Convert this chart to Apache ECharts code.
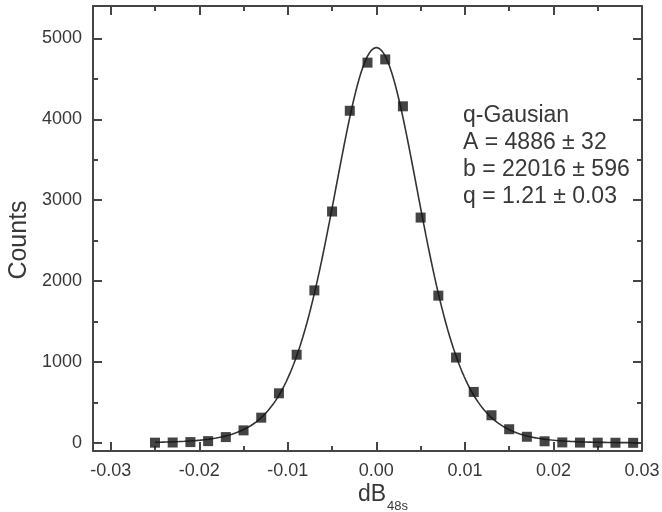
<!DOCTYPE html>
<html>
<head>
<meta charset="utf-8">
<script src="https://cdn.jsdelivr.net/npm/echarts@6/dist/echarts.min.js"></script>
<style>
  html, body { margin: 0; padding: 0; background: #ffffff; }
  #chart { width: 662px; height: 512px; }
</style>
</head>
<body>
<div id="chart"></div>
<script>
// Histogram bin centres (dB over 48 s) and their counts
const binCenters = [-0.025, -0.023, -0.021, -0.019, -0.017, -0.015, -0.013, -0.011, -0.009, -0.007,
                    -0.005, -0.003, -0.001, 0.001, 0.003, 0.005, 0.007, 0.009, 0.011, 0.013,
                    0.015, 0.017, 0.019, 0.021, 0.023, 0.025, 0.027, 0.029];
const counts = [3, 5, 10, 22, 72, 155, 312, 613, 1090, 1885,
                2860, 4105, 4700, 4740, 4160, 2785, 1820, 1055, 630, 342,
                169, 76, 20, 6, 4, 3, 2, 1];

// q-Gaussian fit parameters
const fitA = 4886, fitAErr = 32;
const fitB = 22016, fitBErr = 596;
const fitQ = 1.21, fitQErr = 0.03;

// Axis ticks
const xMajorTicks = [-0.03, -0.02, -0.01, 0.0, 0.01, 0.02, 0.03];
const xMinorTicks = [-0.025, -0.015, -0.005, 0.005, 0.015, 0.025];
const yMajorTicks = [0, 1000, 2000, 3000, 4000, 5000];
const yMinorTicks = [500, 1500, 2500, 3500, 4500];

// Fit curve over the range of the data: f(x) = A [1 - (1-q) b x^2]^(1/(1-q))
function qGaussian(x) {
  return fitA * Math.pow(1 - (1 - fitQ) * fitB * x * x, 1 / (1 - fitQ));
}
const fitCurve = [];
const xStart = binCenters[0], xEnd = binCenters[binCenters.length - 1];
const nSteps = 540;
for (let i = 0; i <= nSteps; i++) {
  const x = xStart + (xEnd - xStart) * i / nSteps;
  fitCurve.push([x, qGaussian(x)]);
}

const FONT = '"Liberation Sans", Arial, Helvetica, sans-serif';
const AXIS_COLOR = '#454545';
const TEXT_COLOR = '#383838';
const X_MIN = -0.032, X_MAX = 0.03;
const Y_MIN = -100, Y_MAX = 5400;

function frameAxis(extra, ticks, len, withLine, labels) {
  return Object.assign({
    type: 'value',
    axisLine: { show: withLine, onZero: false, lineStyle: { color: AXIS_COLOR, width: 2 } },
    axisTick: { show: true, inside: true, length: len, customValues: ticks,
                lineStyle: { color: AXIS_COLOR, width: 2 } },
    axisLabel: labels ? labels : { show: false },
    splitLine: { show: false },
    minorTick: { show: false }
  }, extra);
}

const chart = echarts.init(document.getElementById('chart'), null, { renderer: 'canvas' });

chart.setOption({
  backgroundColor: '#ffffff',
  animation: false,
  grid: { left: 93, right: 20, top: 6, bottom: 61, containLabel: false, outerBoundsMode: 'none' },
  xAxis: [
    frameAxis({ position: 'bottom', min: X_MIN, max: X_MAX }, xMajorTicks, 9, true, {
      show: true, customValues: xMajorTicks, margin: 11,
      fontFamily: FONT, fontSize: 18, color: TEXT_COLOR,
      formatter: v => v.toFixed(2)
    }),
    frameAxis({ position: 'bottom', min: X_MIN, max: X_MAX }, xMinorTicks, 5, false),
    frameAxis({ position: 'top', min: X_MIN, max: X_MAX }, xMajorTicks, 9, true),
    frameAxis({ position: 'top', min: X_MIN, max: X_MAX }, xMinorTicks, 5, false)
  ],
  yAxis: [
    frameAxis({ position: 'left', min: Y_MIN, max: Y_MAX }, yMajorTicks, 9, true, {
      show: true, customValues: yMajorTicks, margin: 11,
      fontFamily: FONT, fontSize: 18, color: TEXT_COLOR,
      formatter: v => String(v)
    }),
    frameAxis({ position: 'left', min: Y_MIN, max: Y_MAX }, yMinorTicks, 5, false),
    frameAxis({ position: 'right', min: Y_MIN, max: Y_MAX }, yMajorTicks, 9, true),
    frameAxis({ position: 'right', min: Y_MIN, max: Y_MAX }, yMinorTicks, 5, false)
  ],
  graphic: [
    // axis titles
    {
      type: 'text', x: 19, y: 240, rotation: Math.PI / 2,
      style: { text: 'Counts', font: '25px ' + FONT, fill: TEXT_COLOR,
               align: 'center', verticalAlign: 'middle' }
    },
    {
      type: 'text', x: 358, y: 495,
      style: { text: 'dB', font: '23px ' + FONT, fill: TEXT_COLOR,
               align: 'left', verticalAlign: 'middle' }
    },
    {
      type: 'text', x: 387, y: 506,
      style: { text: '48s', font: '13px ' + FONT, fill: TEXT_COLOR,
               align: 'left', verticalAlign: 'middle' }
    },
    // fit summary
    {
      type: 'text', left: 463, top: 102,
      style: {
        text: [
          'q-Gausian',
          'A = ' + fitA + ' \u00b1 ' + fitAErr,
          'b = ' + fitB + ' \u00b1 ' + fitBErr,
          'q = ' + fitQ.toFixed(2) + ' \u00b1 ' + fitQErr.toFixed(2)
        ].join('\n'),
        font: '23px ' + FONT, fill: TEXT_COLOR, lineHeight: 27
      }
    }
  ],
  series: [
    {
      type: 'line', xAxisIndex: 0, yAxisIndex: 0,
      data: fitCurve, showSymbol: false, smooth: false,
      lineStyle: { color: '#333333', width: 1.6 }, z: 2
    },
    {
      type: 'scatter', xAxisIndex: 0, yAxisIndex: 0,
      data: binCenters.map((x, i) => [x, counts[i]]),
      symbol: 'rect', symbolSize: 10,
      itemStyle: { color: '#151515' }, z: 3
    }
  ]
});
</script>
</body>
</html>
